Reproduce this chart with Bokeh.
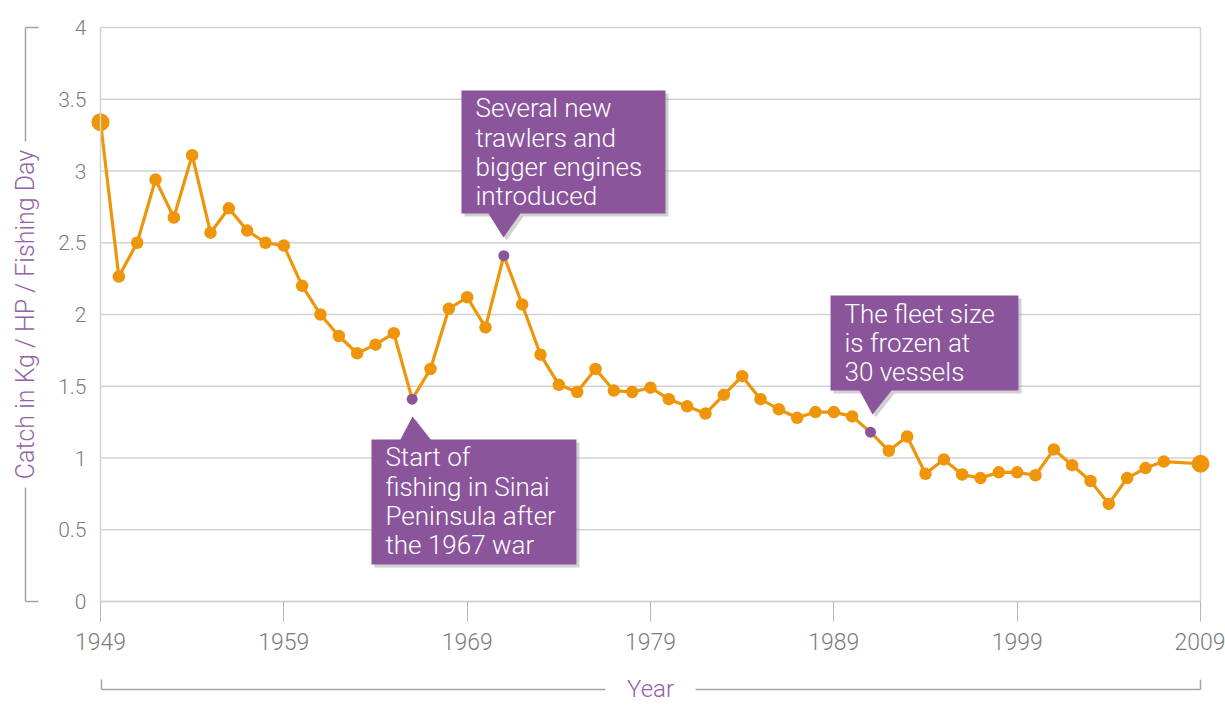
import math
from bokeh.plotting import figure
from bokeh.models import ColumnDataSource, FixedTicker, Range1d
from bokeh.core.properties import value
from bokeh.embed import file_html
from bokeh.resources import INLINE

# ---------------- data ----------------
years = [1949, 1950, 1951, 1952, 1953, 1954, 1955, 1956, 1957, 1958,
         1959, 1960, 1961, 1962, 1963, 1964, 1965, 1966, 1967, 1968,
         1969, 1970, 1971, 1972, 1973, 1974, 1975, 1976, 1977, 1978,
         1979, 1980, 1981, 1982, 1983, 1984, 1985, 1986, 1987, 1988,
         1989, 1990, 1991, 1992, 1993, 1994, 1995, 1996, 1997, 1998,
         1999, 2000, 2001, 2002, 2003, 2004, 2005, 2006, 2007, 2009]
catch = [3.34, 2.265, 2.50, 2.94, 2.676, 3.11, 2.57, 2.74, 2.585, 2.50,
         2.48, 2.20, 2.00, 1.85, 1.73, 1.79, 1.87, 1.41, 1.62, 2.04,
         2.12, 1.91, 2.41, 2.07, 1.72, 1.51, 1.46, 1.62, 1.47, 1.46,
         1.49, 1.41, 1.36, 1.31, 1.44, 1.57, 1.41, 1.34, 1.28, 1.32,
         1.32, 1.29, 1.18, 1.05, 1.15, 0.89, 0.99, 0.885, 0.86, 0.90,
         0.90, 0.88, 1.06, 0.95, 0.84, 0.68, 0.86, 0.93, 0.975, 0.96]
highlight_years = [1966, 1971, 1991]
endpoint_years = [1949, 2009]

x_ticks = [1949, 1959, 1969, 1979, 1989, 1999, 2009]
y_ticks = [0, 0.5, 1, 1.5, 2, 2.5, 3, 3.5, 4]
y_tick_labels = ["0", "0.5", "1", "1.5", "2", "2.5", "3", "3.5", "4"]

y_title = "Catch in Kg / HP / Fishing Day"
x_title = "Year"

callout_texts = ["Several new\ntrawlers and\nbigger engines\nintroduced",
                 "Start of\nfishing in Sinai\nPeninsula after\nthe 1967 war",
                 "The fleet size\nis frozen at\n30 vessels"]
callout_left = [1968.69, 1963.78, 1988.82]
callout_right = [1979.82, 1974.96, 1999.07]
callout_top = [3.561, 1.129, 2.132]
callout_bottom = [2.704, 0.258, 1.470]
callout_tip_x = [1970.98, 1966.02, 1991.11]
callout_tip_y = [2.537, 1.289, 1.303]
callout_base_left = [1970.16, 1965.36, 1990.40]
callout_base_right = [1971.91, 1967.00, 1992.15]
callout_pointer = ["down", "up", "down"]

# ---------------- style / layout ----------------
ORANGE = "#EF9509"
PURPLE = "#8A559B"
TITLE_PURPLE = "#9461A6"
GRID = "#d2d2d2"
TICK_TEXT = "#7b7b7b"
BRACKET = "#a3a3a3"
FONT = "Roboto Light"

W, H = 1225, 705
# frame covers the whole canvas; data area sits at px 100..1200, 27..601
XS = 1100 / 60.0      # px per year
YS = 574 / 4.0        # px per unit
X0 = 1949 - 100 / XS
X1 = 1949 + (W - 100) / XS
Y1 = 4 + 27 / YS
Y0 = 4 - (H - 27) / YS


def dx(px):
    return X0 + px / XS


def dy(py):
    return Y1 - py / YS


p = figure(width=W, height=H, min_border=0,
           x_range=Range1d(X0, X1), y_range=Range1d(Y0, Y1),
           output_backend="svg", toolbar_location=None,
           background_fill_color="white", border_fill_color="white")
p.title.visible = False
p.outline_line_color = None
p.xgrid.visible = False
p.ygrid.visible = False

# x axis
xa = p.xaxis[0]
xa.fixed_location = 0
xa.bounds = (1949, 2009)
xa.ticker = FixedTicker(ticks=x_ticks)
xa.axis_line_color = GRID
xa.axis_line_width = 1.5
xa.major_tick_line_color = "#b5b5b5"
xa.major_tick_line_width = 1
xa.major_tick_out = 20
xa.major_tick_in = 0
xa.minor_tick_line_color = None
xa.major_label_standoff = 11
xa.major_label_text_font = FONT
xa.major_label_text_font_size = "23px"
xa.major_label_text_color = TICK_TEXT

# y axis
ya = p.yaxis[0]
ya.fixed_location = 1949
ya.bounds = (0, 4)
ya.ticker = FixedTicker(ticks=y_ticks)
ya.major_label_overrides = {t: l for t, l in zip(y_ticks, y_tick_labels)}
ya.axis_line_color = GRID
ya.axis_line_width = 1.5
ya.major_tick_line_color = None
ya.minor_tick_line_color = None
ya.major_label_standoff = 8
ya.major_label_text_font = FONT
ya.major_label_text_font_size = "21px"
ya.major_label_text_color = TICK_TEXT

# horizontal grid lines limited to the data area, plus right border
p.segment(x0=[x_ticks[0]] * len(y_ticks), y0=y_ticks,
          x1=[x_ticks[-1]] * len(y_ticks), y1=y_ticks,
          line_color=GRID, line_width=1.5)
p.segment(x0=[x_ticks[-1]], y0=[y_ticks[0]], x1=[x_ticks[-1]], y1=[y_ticks[-1]],
          line_color=GRID, line_width=1.5)

# ---------------- series ----------------
colors = [PURPLE if y in highlight_years else ORANGE for y in years]
sizes = [18 if y in endpoint_years else (11 if y in highlight_years else 12.5) for y in years]
src = ColumnDataSource(dict(x=years, y=catch, color=colors, size=sizes))
p.line("x", "y", source=src, line_color=ORANGE, line_width=3.2)
p.scatter("x", "y", source=src, size="size", fill_color="color", line_color=None)

# ---------------- callouts ----------------
shadow_dx, shadow_dy = 3 / XS, -3 / YS
xs, ys, sxs, sys_ = [], [], [], []
for L, R, T, B, tx, ty, bl, br, d in zip(callout_left, callout_right, callout_top,
                                           callout_bottom, callout_tip_x, callout_tip_y,
                                           callout_base_left, callout_base_right,
                                           callout_pointer):
    if d == "down":
        px = [L, R, R, br, tx, bl, L]
        py = [T, T, B, B, ty, B, B]
    else:
        px = [L, bl, tx, br, R, R, L]
        py = [T, T, ty, T, T, B, B]
    xs.append(px)
    ys.append(py)
    sxs.append([v + shadow_dx for v in px])
    sys_.append([v + shadow_dy for v in py])

p.patches(sxs, sys_, fill_color="#9a9a9a", fill_alpha=0.45, line_color=None)
p.patches(xs, ys, fill_color=PURPLE, line_color=None)

text_x = [l + 14 / XS for l in callout_left]
text_y = [t - 3 / YS for t in callout_top]
p.text(text_x, text_y, text=callout_texts, text_color="white",
       text_font=value(FONT), text_font_size="26px",
       text_baseline="top", text_align="left", text_line_height=0.97)

# ---------------- axis titles with brackets ----------------
p.text([dx(25)], [dy(314)], text=[y_title], angle=math.pi / 2,
       text_align="center", text_baseline="middle", text_font=value(FONT),
       text_font_size="25px", text_color=TITLE_PURPLE)
p.text([dx(650)], [dy(688)], text=[x_title],
       text_align="center", text_baseline="middle", text_font=value(FONT),
       text_font_size="24px", text_color=TITLE_PURPLE)

bx0 = [dx(25), dx(25), dx(25), dx(25), dx(101), dx(695), dx(101), dx(1200)]
by0 = [dy(27), dy(487), dy(27), dy(601), dy(689), dy(689), dy(679), dy(679)]
bx1 = [dx(25), dx(25), dx(38), dx(38), dx(605), dx(1200), dx(101), dx(1200)]
by1 = [dy(141), dy(601), dy(27), dy(601), dy(689), dy(689), dy(689), dy(689)]
p.segment(bx0, by0, bx1, by1, line_color=BRACKET, line_width=1.5)

open("out.html", "w").write(file_html(p, INLINE))
